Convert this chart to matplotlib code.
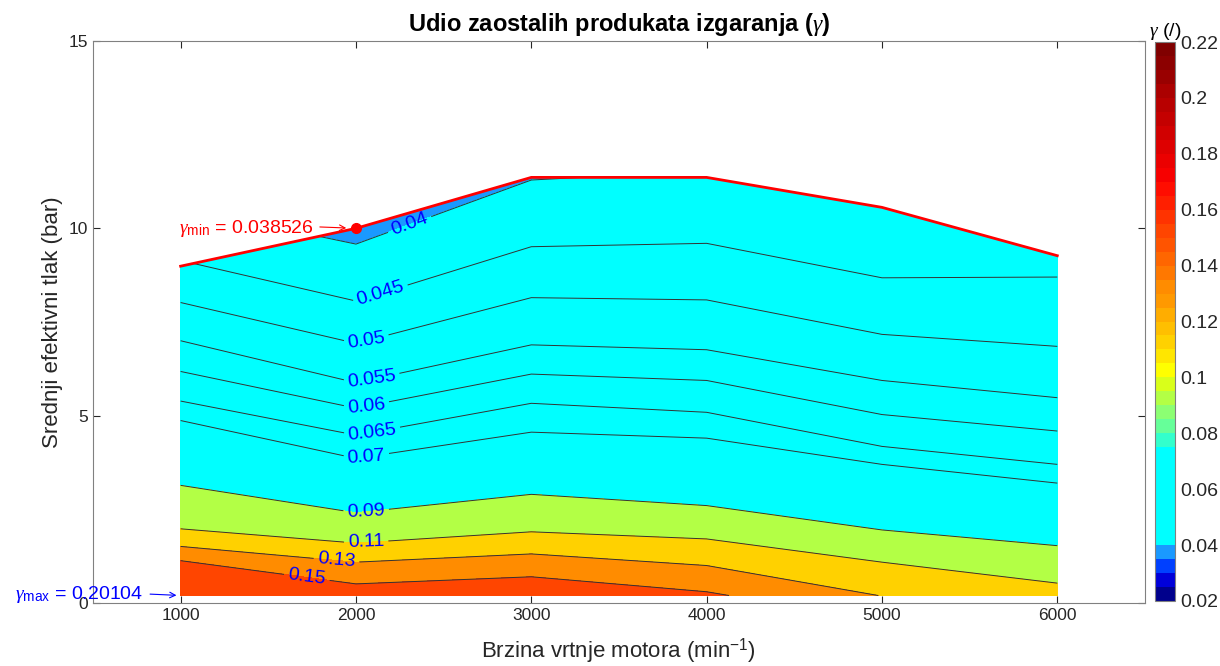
import numpy as np
import matplotlib
matplotlib.use('Agg')
import matplotlib.pyplot as plt
from matplotlib.colors import ListedColormap, Normalize
from matplotlib.cm import ScalarMappable

plt.rcParams['font.family'] = ['Liberation Sans', 'DejaVu Sans']
plt.rcParams['mathtext.fontset'] = 'custom'
plt.rcParams['mathtext.rm'] = 'Liberation Sans'
plt.rcParams['mathtext.it'] = 'Liberation Serif:italic'
plt.rcParams['mathtext.bf'] = 'Liberation Sans:bold'

# --- data (speed in min^-1, BMEP in bar) ---
speeds = [1000, 2000, 3000, 4000, 5000, 6000]
p_bottom = [0.2, 0.2, 0.2, 0.2, 0.2, 0.2]
p_top = [8.99, 10.0, 11.36, 11.36, 10.56, 9.27]
gamma_bottom = [0.20104, 0.161, 0.166, 0.153, 0.1295, 0.117]
gamma_top = [0.0455, 0.038526, 0.0398, 0.0405, 0.041, 0.043]

# BMEP where gamma equals each iso level (None = level not reached in that column)
iso_levels = [0.15, 0.13, 0.11, 0.09, 0.07, 0.065, 0.06, 0.055, 0.05, 0.045, 0.04]
p_015 = [1.13, 0.51, 0.70, 0.30, None, None]
p_013 = [1.51, 1.09, 1.31, 1.00, None, None]
p_011 = [1.98, 1.60, 1.90, 1.71, 1.09, 0.53]
p_009 = [3.14, 2.41, 2.90, 2.60, 1.95, 1.53]
p_007 = [4.87, 3.86, 4.56, 4.40, 3.70, 3.20]
p_0065 = [5.39, 4.48, 5.33, 5.09, 4.18, 3.70]
p_006 = [6.18, 5.20, 6.11, 5.94, 5.03, 4.59]
p_0055 = [7.00, 5.88, 6.89, 6.76, 5.94, 5.48]
p_005 = [8.02, 6.93, 8.15, 8.09, 7.17, 6.85]
p_0045 = [None, 8.06, 9.51, 9.60, 8.68, 8.70]
p_004 = [None, 9.58, 11.29, None, None, None]
iso_p = [p_015, p_013, p_011, p_009, p_007, p_0065, p_006, p_0055, p_005, p_0045, p_004]

# label spots (speed, bmep)
label_pos = [(2310, 10.05), (2139, 8.27), (2059, 7.0), (2088, 6.0), (2059, 5.27),
             (2093, 4.52), (2059, 3.9), (2059, 2.39), (2059, 1.57), (1888, 1.06), (1718, 0.62)]

# colormap of the colorbar, 0.02 .. 0.22 in 0.005 steps
cb_colors = [(0, 0, 0.55), (0, 0, 0.85), (0, 0.25, 1), (0.1, 0.6, 1)] + [(0, 1, 1)] * 7 + [
    (0.2, 1, 0.8), (0.4, 1, 0.6), (0.55, 1, 0.45), (0.7, 1, 0.27), (0.85, 1, 0.1),
    (1, 1, 0), (1, 0.9, 0), (1, 0.82, 0), (1, 0.75, 0), (1, 0.68, 0), (1, 0.6, 0),
    (1, 0.55, 0), (1, 0.47, 0), (1, 0.4, 0), (1, 0.33, 0), (1, 0.27, 0), (1, 0.2, 0),
    (1, 0.12, 0), (1, 0.05, 0), (0.97, 0, 0), (0.92, 0, 0), (0.87, 0, 0), (0.82, 0, 0),
    (0.77, 0, 0), (0.72, 0, 0), (0.67, 0, 0), (0.6, 0, 0), (0.55, 0, 0), (0.5, 0, 0)]
cmap = ListedColormap(cb_colors)
vmin, vmax = 0.02, 0.22

# build a structured grid: rows = bottom, iso lines, top
ncol = len(speeds)
rows_p = [p_bottom]
rows_g = [gamma_bottom]
for lvl, pl in zip(iso_levels, iso_p):
    rp, rg = [], []
    for j in range(ncol):
        if pl[j] is None:
            if lvl > gamma_bottom[j]:
                rp.append(p_bottom[j]); rg.append(gamma_bottom[j])
            else:
                rp.append(p_top[j]); rg.append(gamma_top[j])
        else:
            rp.append(pl[j]); rg.append(lvl)
    rows_p.append(rp)
    rows_g.append(rg)
rows_p.append(p_top)
rows_g.append(gamma_top)
P = np.array(rows_p)
G = np.array(rows_g)
X = np.tile(np.array(speeds, float), (len(rows_p), 1))

fig = plt.figure(figsize=(12.2, 6.66), dpi=100)
ax = fig.add_axes([0.0762, 0.0946, 0.8623, 0.8438])

lv = sorted(iso_levels)
fill_levels = [vmin] + lv + [vmax]
gmin = min(gamma_top)
band_lo = [gmin] + lv
fill_colors = [cb_colors[int((v - vmin) / 0.005 + 1e-6)] for v in band_lo]
ax.contourf(X, P, G, levels=fill_levels, colors=fill_colors)
cs = ax.contour(X, P, G, levels=lv, colors=[(0.2, 0.2, 0.2)], linewidths=0.7)

ax.set_xlim(500, 6500)
ax.set_ylim(0, 15)
ax.clabel(cs, lv, inline=True, inline_spacing=4, fontsize=14, colors='blue',
          fmt=lambda v: f"{v:g}", manual=label_pos)

# upper boundary and min/max markers
ax.plot(speeds, p_top, color='red', lw=2)
imin = int(np.argmin(gamma_top))
ax.plot(speeds[imin], p_top[imin], 'o', color='red', ms=7)
ax.annotate("", (speeds[imin], p_top[imin]), xytext=(-26, 1), textcoords='offset points',
            arrowprops=dict(arrowstyle='->', color='red', lw=0.8, shrinkA=0, shrinkB=7))
ax.annotate(r"$\gamma_{\rm min}$ = %g" % gamma_top[imin], (speeds[imin], p_top[imin]),
            xytext=(-30, 0), textcoords='offset points',
            color='red', fontsize=14, ha='right', va='center')
imax = int(np.argmax(gamma_bottom))
ax.annotate("", (speeds[imax], p_bottom[imax]), xytext=(-22, 1), textcoords='offset points',
            arrowprops=dict(arrowstyle='->', color='blue', lw=0.8, shrinkA=0, shrinkB=3))
ax.annotate(r"$\gamma_{\rm max}$ = %g" % gamma_bottom[imax], (speeds[imax], p_bottom[imax]),
            xytext=(-27, 1), textcoords='offset points',
            color='blue', fontsize=14, ha='right', va='center')

ax.set_xticks(speeds)
ax.set_yticks([0, 5, 10, 15])
ax.tick_params(direction='in', top=True, right=True, length=5, labelsize=12.5,
               colors=(0.15, 0.15, 0.15))
for s in ax.spines.values():
    s.set_color((0.5, 0.5, 0.5))
    s.set_linewidth(0.8)
ax.set_xlabel("Brzina vrtnje motora (min$^{-1}$)", fontsize=16, color=(0.15, 0.15, 0.15), labelpad=10)
ax.set_ylabel("Srednji efektivni tlak (bar)", fontsize=16, color=(0.15, 0.15, 0.15), labelpad=4)
ax.set_title(r"Udio zaostalih produkata izgaranja ($\gamma$)", fontsize=17, fontweight='bold', pad=7)

cax = fig.add_axes([0.9467, 0.0976, 0.0164, 0.8393])
sm = ScalarMappable(norm=Normalize(vmin, vmax), cmap=cmap)
cb = fig.colorbar(sm, cax=cax)
cb_ticks = [0.02, 0.04, 0.06, 0.08, 0.1, 0.12, 0.14, 0.16, 0.18, 0.2, 0.22]
cb.set_ticks(cb_ticks)
cb.set_ticklabels([f"{t:g}" for t in cb_ticks])
cb.ax.tick_params(labelsize=14, length=0, colors=(0.15, 0.15, 0.15))
cb.outline.set_edgecolor((0.5, 0.5, 0.5))
cb.outline.set_linewidth(0.8)
cax.set_title(r"$\gamma$ (/)", fontsize=14, pad=3)

fig.savefig('out.png', dpi=100)
